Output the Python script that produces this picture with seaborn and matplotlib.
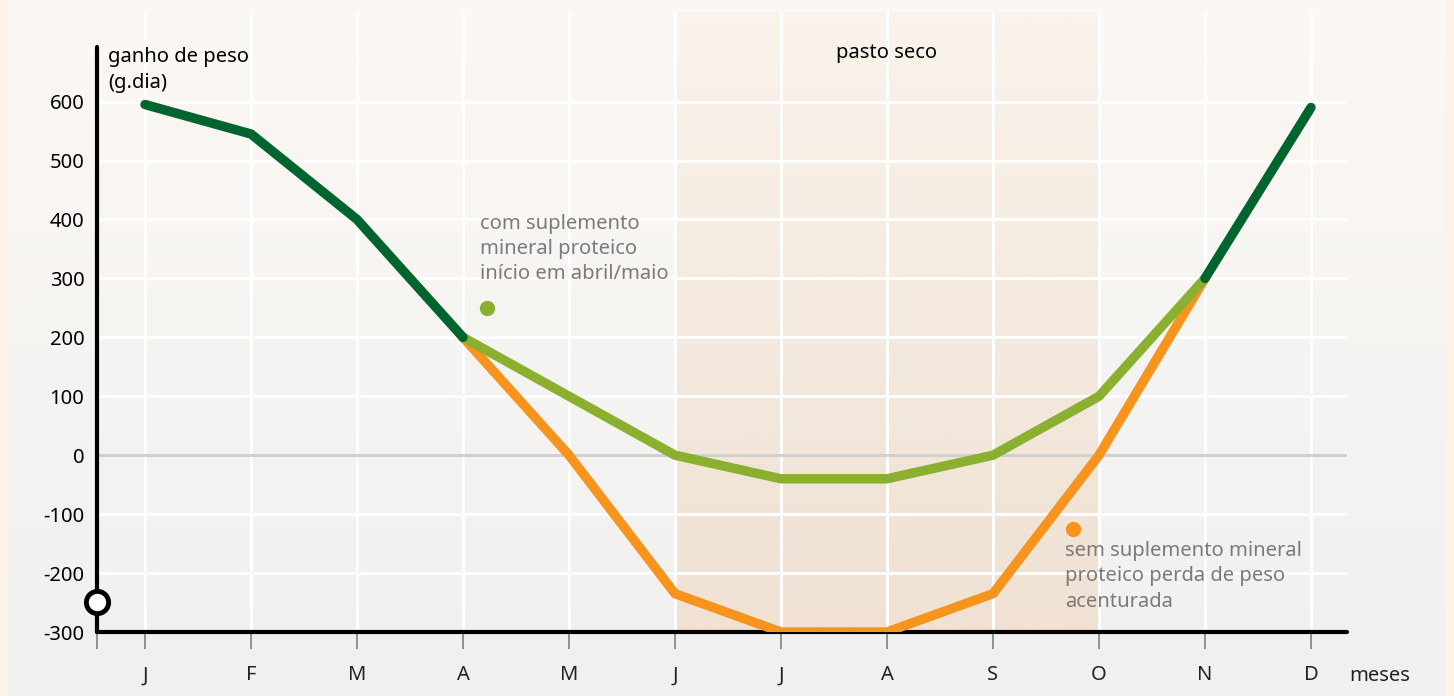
import matplotlib
matplotlib.use("Agg")
import matplotlib.pyplot as plt
import matplotlib.colors as mcolors
import numpy as np
import pandas as pd
import seaborn as sns

MESES = ["J", "F", "M", "A", "M", "J", "J", "A", "S", "O", "N", "D"]
Y_TICKS = [-300, -200, -100, 0, 100, 200, 300, 400, 500, 600]

# pasto verde (sem distinção de suplemento)
VERDE_IDX_1 = [0, 1, 2, 3]
VERDE_VAL_1 = [595, 545, 400, 200]
VERDE_IDX_2 = [10, 11]
VERDE_VAL_2 = [300, 590]

# com suplemento mineral proteico
COM_IDX = [3, 4, 5, 6, 7, 8, 9, 10]
COM_VAL = [200, 100, 0, -40, -40, 0, 100, 300]

# sem suplemento
SEM_IDX = [3, 4, 5, 6, 7, 8, 9, 10]
SEM_VAL = [200, 0, -235, -300, -300, -235, 0, 300]

SECO_INICIO, SECO_FIM = 5, 9

VERDE_ESCURO = "#00642f"
VERDE_CLARO = "#8bb02f"
LARANJA = "#f7941d"
CINZA_TXT = "#7a7a7a"
FS = 14.5

sns.set_theme(style="white")
plt.rcParams["font.family"] = ["Noto Sans", "DejaVu Sans"]

fig = plt.figure(figsize=(14.54, 6.96), dpi=100)
fig.patch.set_facecolor("#fdf2e6")

# fundo em degradê
bg = fig.add_axes([8 / 1454, 0, 1437 / 1454, 1])
top = np.array(mcolors.to_rgb("#fcf8f3"))
bot = np.array(mcolors.to_rgb("#f0f0f0"))
t = np.linspace(0, 1, 256)[:, None]
grad = top[None, :] * (1 - t) + bot[None, :] * t
bg.imshow(grad[:, None, :], aspect="auto", extent=(0, 1, 0, 1))
bg.set_axis_off()

ax = fig.add_axes([97 / 1454, 64 / 696, 1250 / 1454, 620 / 696])
ax.patch.set_alpha(0)

x_left = (97 - 145) / 106
x_right = (1347 - 145) / 106

# faixa do pasto seco
band = np.zeros((256, 1, 4))
band[..., :3] = mcolors.to_rgb("#efc9a3")
band[:, 0, 3] = np.linspace(0.08, 0.38, 256)
ax.imshow(band, aspect="auto", extent=(SECO_INICIO, SECO_FIM, -300, 766),
          origin="upper", zorder=0.5)
ax.set_xlim(x_left, x_right)
ax.set_ylim(-300, 752)

# grade
for m in range(len(MESES)):
    ax.axvline(m, color="white", lw=2.2, zorder=1)
for v in Y_TICKS[1:]:
    ax.axhline(v, color="#d0d0d0" if v == 0 else "white", lw=2.2, zorder=1)

kw = dict(lw=6.8, solid_capstyle="round", solid_joinstyle="round", legend=False, zorder=6)
sns.lineplot(x=SEM_IDX, y=SEM_VAL, color=LARANJA, ax=ax, **kw)
sns.lineplot(x=COM_IDX, y=COM_VAL, color=VERDE_CLARO, ax=ax, **kw)
sns.lineplot(x=VERDE_IDX_1, y=VERDE_VAL_1, color=VERDE_ESCURO, ax=ax, **kw)
sns.lineplot(x=VERDE_IDX_2, y=VERDE_VAL_2, color=VERDE_ESCURO, ax=ax, **kw)

# legendas diretas
ax.plot([3.23], [250], "o", color=VERDE_CLARO, ms=10, zorder=4)
ax.text(3.16, 410, "com suplemento\nmineral proteico\ninício em abril/maio",
        color=CINZA_TXT, fontsize=FS, va="top", ha="left", linespacing=1.35)
ax.plot([8.75], [-125], "o", color=LARANJA, ms=10, zorder=4)
ax.text(8.68, -146, "sem suplemento mineral\nproteico perda de peso\nacenturada",
        color=CINZA_TXT, fontsize=FS, va="top", ha="left", linespacing=1.35)

ax.text(-0.35, 692, "ganho de peso\n(g.dia)", color="black", fontsize=FS,
        va="top", ha="left", linespacing=1.4)
ax.text(7, 682, "pasto seco", color="black", fontsize=FS, ha="center", va="center")
ax.text(11.36, -375, "meses", color="#222222", fontsize=FS, ha="left", va="center",
        clip_on=False)

# eixos
for s in ["top", "right"]:
    ax.spines[s].set_visible(False)
for s in ["left", "bottom"]:
    ax.spines[s].set_linewidth(3)
    ax.spines[s].set_color("black")
    ax.spines[s].set_capstyle("round")
    ax.spines[s].set_zorder(5)
ax.spines["left"].set_bounds(-300, 692)

ax.set_xticks(range(len(MESES)))
ax.set_xticklabels(MESES)
ax.set_xticks([x_left], minor=True)
ax.tick_params(axis="x", which="both", length=12, width=1.3, color="#8a8a8a",
               direction="out", pad=12, labelsize=FS, labelcolor="#222222", bottom=True)
ax.set_yticks(Y_TICKS)
ax.set_yticklabels([str(v) for v in Y_TICKS])
ax.tick_params(axis="y", length=0, pad=9, labelsize=FS, labelcolor="black")

ax.plot([x_left], [-249], "o", ms=16, mfc="white", mec="black", mew=3.5,
        clip_on=False, zorder=7)

fig.savefig("out.png", dpi=100, facecolor=fig.get_facecolor())
